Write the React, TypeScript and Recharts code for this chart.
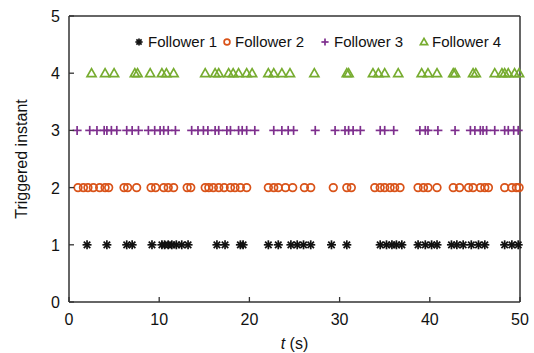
import { ScatterChart, Scatter, XAxis, YAxis, Legend, Label } from 'recharts';

// trigger times (s), one list per follower
const follower1 = [
  2.0, 4.2, 6.4, 7.0, 9.2, 10.3, 10.6, 11.0, 11.4, 11.9, 12.5, 13.2, 16.4, 17.3, 19.0, 19.3,
  22.1, 23.2, 24.6, 25.3, 26.0, 26.8, 29.1, 30.8, 34.5, 35.2, 35.8, 36.3, 36.9, 38.7, 39.5,
  40.2, 40.8, 42.4, 43.0, 43.7, 44.6, 45.4, 46.1, 48.3, 49.1, 49.8,
];
const follower2 = [
  1.0, 1.6, 2.1, 2.7, 3.4, 4.0, 4.4, 6.1, 6.5, 7.5, 9.1, 9.6, 10.5, 11.0, 11.6, 13.1, 13.5,
  15.1, 15.5, 16.0, 16.6, 17.2, 17.9, 18.4, 19.0, 19.7, 22.1, 22.7, 23.2, 24.0, 24.8, 26.1,
  26.8, 29.3, 30.8, 31.3, 33.9, 34.5, 35.0, 35.6, 36.1, 36.7, 38.7, 39.3, 39.8, 40.8, 42.6,
  43.3, 44.3, 44.8, 45.6, 46.1, 46.5, 48.3, 49.1, 49.6, 49.9,
];
const follower3 = [
  0.9, 2.3, 3.1, 3.9, 4.2, 4.7, 5.3, 6.4, 7.0, 7.7, 8.8, 9.5, 10.1, 10.5, 11.0, 11.8, 13.6,
  14.3, 14.9, 15.4, 16.2, 16.6, 17.5, 17.9, 18.8, 19.2, 19.7, 20.6, 22.7, 23.6, 24.3, 24.9,
  27.3, 29.5, 30.6, 31.0, 31.5, 32.3, 34.5, 35.0, 36.0, 38.9, 39.5, 39.8, 40.9, 42.8, 44.5,
  45.0, 45.6, 45.9, 46.3, 47.2, 48.3, 48.7, 49.3, 49.8,
];
const follower4 = [
  2.5, 4.0, 5.0, 7.3, 7.6, 9.0, 10.3, 10.8, 11.6, 15.1, 16.2, 16.6, 17.7, 18.2, 18.8, 19.7,
  20.3, 22.1, 22.7, 23.6, 24.5, 27.2, 30.8, 31.0, 33.7, 34.3, 35.0, 36.5, 39.1, 39.8, 40.8,
  42.6, 42.8, 44.8, 45.1, 47.2, 48.0, 48.3, 48.7, 49.4, 49.9,
];

const levels = [1, 2, 3, 4];
const seriesNames = ['Follower 1', 'Follower 2', 'Follower 3', 'Follower 4'];
const seriesColors = ['#111111', '#D95319', '#7E2F8E', '#77AC30'];
const markerKinds = ['asterisk', 'circle', 'plus', 'triangle'];
const xTicks = [0, 10, 20, 30, 40, 50];
const yTicks = [0, 1, 2, 3, 4, 5];

const AXIS = '#333333';
const FONT = '"Liberation Sans", Arial, Helvetica, sans-serif';

const allTimes = [follower1, follower2, follower3, follower4];

function marker(kind: string, cx: number, cy: number, color: string, s = 4.5) {
  if (kind === 'asterisk') {
    const d = s * 0.72;
    return (
      <g stroke={color} strokeWidth={1.7}>
        <line x1={cx - s} y1={cy} x2={cx + s} y2={cy} />
        <line x1={cx} y1={cy - s} x2={cx} y2={cy + s} />
        <line x1={cx - d} y1={cy - d} x2={cx + d} y2={cy + d} />
        <line x1={cx - d} y1={cy + d} x2={cx + d} y2={cy - d} />
      </g>
    );
  }
  if (kind === 'circle') {
    return <circle cx={cx} cy={cy} r={s - 0.7} fill="none" stroke={color} strokeWidth={1.7} />;
  }
  if (kind === 'plus') {
    return (
      <g stroke={color} strokeWidth={1.7}>
        <line x1={cx - s} y1={cy} x2={cx + s} y2={cy} />
        <line x1={cx} y1={cy - s} x2={cx} y2={cy + s} />
      </g>
    );
  }
  return (
    <polygon
      points={`${cx},${cy - s} ${cx - s},${cy + s * 0.75} ${cx + s},${cy + s * 0.75}`}
      fill="none"
      stroke={color}
      strokeWidth={1.7}
      strokeLinejoin="miter"
    />
  );
}

const BottomTick = (props: any) => {
  const { x, y, payload } = props;
  return (
    <g>
      <line x1={x} y1={y} x2={x} y2={y - 5} stroke={AXIS} strokeWidth={1.3} />
      <text x={x} y={y + 23} textAnchor="middle" fontSize={16} fill="#111" fontFamily={FONT}>
        {payload.value}
      </text>
    </g>
  );
};

const TopTick = (props: any) => {
  const { x, y } = props;
  return <line x1={x} y1={y} x2={x} y2={y + 5} stroke={AXIS} strokeWidth={1.3} />;
};

const LeftTick = (props: any) => {
  const { x, y, payload } = props;
  return (
    <g>
      <line x1={x} y1={y} x2={x + 5} y2={y} stroke={AXIS} strokeWidth={1.3} />
      <text x={x - 9} y={y + 6} textAnchor="end" fontSize={16} fill="#111" fontFamily={FONT}>
        {payload.value}
      </text>
    </g>
  );
};

const RightTick = (props: any) => {
  const { x, y } = props;
  return <line x1={x} y1={y} x2={x - 5} y2={y} stroke={AXIS} strokeWidth={1.3} />;
};

const legendIconX = [139, 227, 325, 424];
const legendTextX = [148, 235, 334, 432];

const LegendBox = () => (
  <svg width={534} height={60} style={{ display: 'block' }}>
    {seriesNames.map((name, i) => (
      <g key={name}>
        {marker(markerKinds[i], legendIconX[i], 42, seriesColors[i], 3.6)}
        <text x={legendTextX[i]} y={47} fontSize={15} fill="#111" fontFamily={FONT}>
          {name}
        </text>
      </g>
    ))}
  </svg>
);

export default function App() {
  const series = allTimes.map((times, i) => times.map((t) => ({ t, y: levels[i] })));

  return (
    <div style={{ position: 'absolute', left: 0, top: 0, width: 534, height: 353, background: '#fff' }}>
      <ScatterChart width={534} height={353} margin={{ top: 15, right: 13, bottom: 0, left: 0 }}>
        <XAxis
          xAxisId="bottom"
          type="number"
          dataKey="t"
          domain={[0, 50]}
          ticks={xTicks}
          interval={0}
          height={51}
          tickSize={0}
          tickMargin={0}
          tick={<BottomTick />}
          axisLine={{ stroke: AXIS, strokeWidth: 1.5 }}
        >
          <Label
            content={(p: any) => {
              const vb = p.viewBox;
              return (
                <text x={vb.x + vb.width / 2} y={vb.y + 47} textAnchor="middle" fontSize={16} fill="#111" fontFamily={FONT}>
                  <tspan fontStyle="italic">t</tspan> (s)
                </text>
              );
            }}
          />
        </XAxis>
        <XAxis
          xAxisId="top"
          orientation="top"
          type="number"
          domain={[0, 50]}
          ticks={xTicks}
          interval={0}
          height={1}
          tickSize={0}
          tickMargin={0}
          tick={<TopTick />}
          axisLine={{ stroke: AXIS, strokeWidth: 1.5 }}
        />
        <YAxis
          yAxisId="left"
          type="number"
          dataKey="y"
          domain={[0, 5]}
          ticks={yTicks}
          interval={0}
          width={69}
          tickSize={0}
          tickMargin={0}
          tick={<LeftTick />}
          axisLine={{ stroke: AXIS, strokeWidth: 1.5 }}
        >
          <Label
            content={(p: any) => {
              const vb = p.viewBox;
              const cy = vb.y + vb.height / 2;
              return (
                <text
                  x={27}
                  y={cy}
                  transform={`rotate(-90, 27, ${cy})`}
                  textAnchor="middle"
                  fontSize={16}
                  fill="#111"
                  fontFamily={FONT}
                >
                  Triggered instant
                </text>
              );
            }}
          />
        </YAxis>
        <YAxis
          yAxisId="right"
          orientation="right"
          type="number"
          domain={[0, 5]}
          ticks={yTicks}
          interval={0}
          width={1}
          tickSize={0}
          tickMargin={0}
          tick={<RightTick />}
          axisLine={{ stroke: AXIS, strokeWidth: 1.5 }}
        />
        <Legend
          layout="horizontal"
          verticalAlign="middle"
          align="center"
          wrapperStyle={{ left: 0, top: 0, width: 534, height: 60 }}
          content={() => <LegendBox />}
        />
        {series.map((data, i) => (
          <Scatter
            key={seriesNames[i]}
            name={seriesNames[i]}
            data={data}
            xAxisId="bottom"
            yAxisId="left"
            isAnimationActive={false}
            shape={(p: any) => marker(markerKinds[i], p.cx, p.cy, seriesColors[i])}
          />
        ))}
      </ScatterChart>
    </div>
  );
}
